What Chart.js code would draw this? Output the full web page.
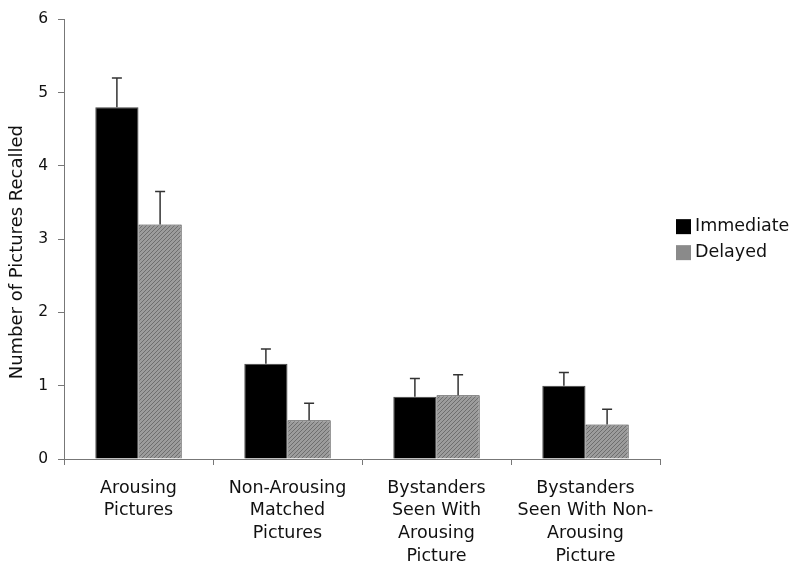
<!DOCTYPE html>
<html>
<head>
<meta charset="utf-8">
<script src="https://cdn.jsdelivr.net/npm/chart.js@4/dist/chart.umd.min.js"></script>
<style>
  body { margin: 0; background: #fff; }
  #wrap { width: 800px; height: 571px; }
</style>
</head>
<body>
<div id="wrap"><canvas id="myChart" width="800" height="571"></canvas></div>
<script>
// categories and values
var categories = [
  ["Arousing", "Pictures"],
  ["Non-Arousing", "Matched", "Pictures"],
  ["Bystanders", "Seen With", "Arousing", "Picture"],
  ["Bystanders", "Seen With Non-", "Arousing", "Picture"]
];
var seriesNames = ["Immediate", "Delayed"];
var immediate = [4.8, 1.3, 0.85, 1.0];
var immediateErr = [5.2, 1.5, 1.1, 1.18];   // top of error bar
var delayed = [3.2, 0.53, 0.87, 0.47];
var delayedErr = [3.65, 0.76, 1.15, 0.68];
var yTicks = [0, 1, 2, 3, 4, 5, 6];
var yTitle = "Number of Pictures Recalled";

var font = "'DejaVu Sans', Verdana, sans-serif";

// gray hatch for the delayed bars
function makeHatch() {
  var c = document.createElement("canvas");
  c.width = 4; c.height = 4;
  var g = c.getContext("2d");
  g.fillStyle = "#9c9c9c";
  g.fillRect(0, 0, 4, 4);
  g.strokeStyle = "#6e6e6e";
  g.lineWidth = 1;
  g.beginPath();
  g.moveTo(0, 4); g.lineTo(4, 0);
  g.moveTo(-1, 1); g.lineTo(1, -1);
  g.moveTo(3, 5); g.lineTo(5, 3);
  g.stroke();
  return g.createPattern(c, "repeat");
}

var errorBars = {
  id: "errorBars",
  afterDatasetsDraw: function(chart) {
    var ctx = chart.ctx;
    var y = chart.scales.y;
    var errs = [immediateErr, delayedErr];
    ctx.save();
    ctx.strokeStyle = "#333";
    ctx.lineWidth = 1.5;
    chart.data.datasets.forEach(function(ds, i) {
      var meta = chart.getDatasetMeta(i);
      meta.data.forEach(function(bar, j) {
        var top = y.getPixelForValue(errs[i][j]);
        ctx.beginPath();
        ctx.moveTo(bar.x, bar.y);
        ctx.lineTo(bar.x, top);
        ctx.moveTo(bar.x - 5, top);
        ctx.lineTo(bar.x + 5, top);
        ctx.stroke();
      });
    });
    ctx.restore();
  }
};

// legend to the right of the plot and the y title (sits a little below centre in the original)
var sideText = {
  id: "sideText",
  afterDraw: function(chart) {
    var ctx = chart.ctx;
    var a = chart.chartArea;
    var cy = (a.top + a.bottom) / 2;
    var fills = ["#000", "#8a8a8a"];
    ctx.save();
    ctx.font = "17.5px " + font;
    ctx.textBaseline = "middle";
    seriesNames.forEach(function(name, i) {
      var y = cy - 12.5 + i * 26;
      ctx.fillStyle = fills[i];
      ctx.fillRect(a.right + 16, y - 7.5, 15, 15);
      ctx.fillStyle = "#111";
      ctx.fillText(name, a.right + 35, y);
    });

    ctx.font = "18px " + font;
    ctx.textAlign = "center";
    ctx.translate(17, cy + 13);
    ctx.rotate(-Math.PI / 2);
    ctx.fillText(yTitle, 0, 0);
    ctx.restore();
  }
};

var ctx = document.getElementById("myChart").getContext("2d");

var myChart = new Chart(ctx, {
  type: "bar",
  data: {
    labels: categories,
    datasets: [
      {
        label: seriesNames[0],
        data: immediate,
        backgroundColor: "#000",
        borderColor: "#444",
        borderWidth: 1
      },
      {
        label: seriesNames[1],
        data: delayed,
        backgroundColor: makeHatch(),
        borderColor: "#333",
        borderWidth: 1
      }
    ]
  },
  options: {
    responsive: false,
    animation: false,
    layout: { padding: { top: 17, right: 140, left: 0, bottom: 0 } },
    datasets: { bar: { categoryPercentage: 0.58, barPercentage: 1.0 } },
    plugins: {
      tooltip: { enabled: false },
      legend: { display: false }
    },
    scales: {
      x: {
        afterFit: function(axis) { axis.height = 112; },
        grid: { display: true, drawOnChartArea: false, offset: true, tickLength: 6, color: "#777" },
        border: { color: "#777", width: 1 },
        ticks: { color: "#111", font: { family: font, size: 17.5, lineHeight: 1.29 }, padding: 12, maxRotation: 0, autoSkip: false }
      },
      y: {
        min: 0,
        max: 6,
        afterFit: function(axis) { axis.width = 64; },
        afterBuildTicks: function(axis) {
          axis.ticks = yTicks.map(function(v) { return { value: v }; });
        },
        grid: { display: true, drawOnChartArea: false, tickLength: 6, color: "#777" },
        border: { color: "#777", width: 1 },
        ticks: { color: "#111", font: { family: font, size: 15.5 }, padding: 10 }
      }
    }
  },
  plugins: [errorBars, sideText]
});
</script>
</body>
</html>
